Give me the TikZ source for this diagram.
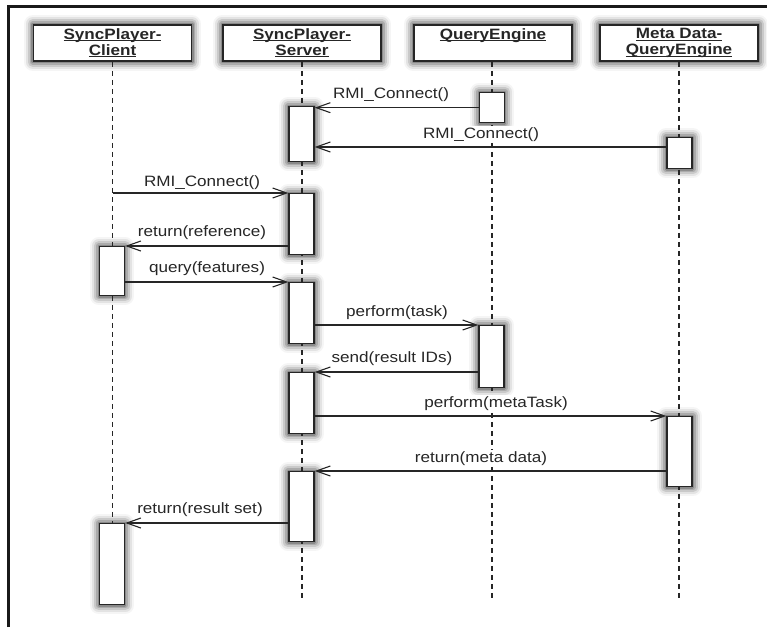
\documentclass[tikz,border=0pt]{standalone}
\usepackage{fontspec}
\setmainfont{Liberation Sans}[FakeStretch=1.14]
\usetikzlibrary{arrows.meta}

\pgfdeclarelayer{shadow}
\pgfsetlayers{shadow,main}

% underline drawn as a rule just below the baseline
\newcommand{\headul}[1]{\setbox0=\hbox{#1}\rlap{\rule[-2.2pt]{\wd0}{1pt}}\box0}

\begin{document}
\begin{tikzpicture}[x=1pt,y=-1pt,
  every node/.style={font=\fontsize{15}{16}\selectfont, text=black!85},
  headbox/.style={draw=black!85, line width=1.6pt, fill=white,
      minimum width=158pt, minimum height=36pt, inner sep=0pt},
  headtext/.style={font=\fontsize{15}{16}\selectfont\bfseries, align=center,
      inner sep=0pt, anchor=north},
  act/.style={draw=black!85, line width=1.4pt, fill=white, minimum width=25pt,
      inner sep=0pt, anchor=north},
  life/.style={draw=black!85, line width=1.4pt, dash pattern=on 5pt off 4pt},
  msg/.style={draw=black!85, line width=1.1pt,
      -{Straight Barb[length=14pt,width=10pt,line width=1.1pt]}},
  lbl/.style={anchor=base, inner sep=1pt, fill=white},
  shadowring/.style={draw=#1, line join=round}]

\useasboundingbox (0,0) rectangle (767,627);

% frame
\draw[line width=3pt, black!90] (8,627) -- (8,6.5) -- (767,6.5);

% participants
\node[headbox] (client) at (112.5,43) {};
\node[headtext] (clientname) at (112.5,28) {\headul{SyncPlayer-}\\\headul{Client}};
\node[headbox] (server) at (302,43) {};
\node[headtext] (servername) at (302,28) {\headul{SyncPlayer-}\\\headul{Server}};
\node[headbox] (qe) at (493,43) {};
\node[headtext] (qename) at (493,28) {\headul{QueryEngine}};
\node[headbox] (meta) at (679,43) {};
\node[headtext] (metaname) at (679,28) {\headul{Meta Data-}\\\headul{QueryEngine}};

% lifelines
\coordinate (clientend) at (112.5,603);
\coordinate (serverend) at (302,598);
\coordinate (qeend) at (492,598);
\coordinate (metaend) at (679,598);
\draw[life] (client.south) -- (client.south |- clientend);
\draw[life] (server.south) -- (server.south |- serverend);
\draw[life] ([xshift=-1pt]qe.south) -- ([xshift=-1pt]qe.south |- qeend);
\draw[life] (meta.south) -- (meta.south |- metaend);

% activations
\node[act, minimum height=30] (q1) at (492,92) {};
\node[act, minimum height=55] (s1) at (301.5,106) {};
\node[act, minimum height=31] (m1) at (679.5,137) {};
\node[act, minimum height=61] (s2) at (301.5,193) {};
\node[act, minimum height=49] (c1) at (112,246) {};
\node[act, minimum height=61] (s3) at (301.5,282) {};
\node[act, minimum height=62] (q2) at (491.5,325) {};
\node[act, minimum height=61] (s4) at (301.5,372) {};
\node[act, minimum height=70] (m2) at (679.5,416) {};
\node[act, minimum height=70] (s5) at (301.5,471) {};
\node[act, minimum height=81] (c2) at (112,523) {};

% soft shadows under every box, built from stacked grey rings
\begin{pgfonlayer}{shadow}
  \foreach \b in {client,server,qe,meta,q1,s1,m1,s2,c1,s3,q2,s4,m2,s5,c2}{
    \begin{scope}[shift={(1.5,4.5)}]
      \draw[shadowring=black!4,  line width=18pt] (\b.north west) rectangle (\b.south east);
      \draw[shadowring=black!11, line width=14pt] (\b.north west) rectangle (\b.south east);
      \draw[shadowring=black!21, line width=10pt] (\b.north west) rectangle (\b.south east);
      \draw[shadowring=black!33, line width=6pt]  (\b.north west) rectangle (\b.south east);
      \draw[shadowring=black!46, line width=2.5pt, fill=black!55] (\b.north west) rectangle (\b.south east);
    \end{scope}
  }
\end{pgfonlayer}

% messages
\coordinate (m1out) at ([yshift=-10pt]m1.north west);
\draw[msg] (q1.west) -- (s1.east |- q1.west);
\draw[msg] (m1out) -- (s1.east |- m1out);
\draw[msg] (client.south |- s2.north) -- (s2.north west);
\draw[msg] (s2.west |- c1.north) -- (c1.north east);
\draw[msg] (c1.east |- s3.north) -- (s3.north west);
\draw[msg] (s3.east |- q2.north) -- (q2.north west);
\draw[msg] (q2.west |- s4.north) -- (s4.north east);
\draw[msg] (s4.east |- m2.north) -- (m2.north west);
\draw[msg] (m2.west |- s5.north) -- (s5.north east);
\draw[msg] (s5.west |- c2.north) -- (c2.north east);

% message labels
\node[lbl] (t1) at (391,98) {RMI\_Connect()};
\node[lbl] (t2) at (481,138) {RMI\_Connect()};
\node[lbl] (t3) at (202,186) {RMI\_Connect()};
\node[lbl] (t4) at (202,236) {return(reference)};
\node[lbl] (t5) at (207,272) {query(features)};
\node[lbl] (t6) at (397,316) {perform(task)};
\node[lbl] (t7) at (392,362) {send(result IDs)};
\node[lbl] (t8) at (496,407) {perform(metaTask)};
\node[lbl] (t9) at (481,462) {return(meta data)};
\node[lbl] (t10) at (200,513) {return(result set)};
\end{tikzpicture}
\end{document}
